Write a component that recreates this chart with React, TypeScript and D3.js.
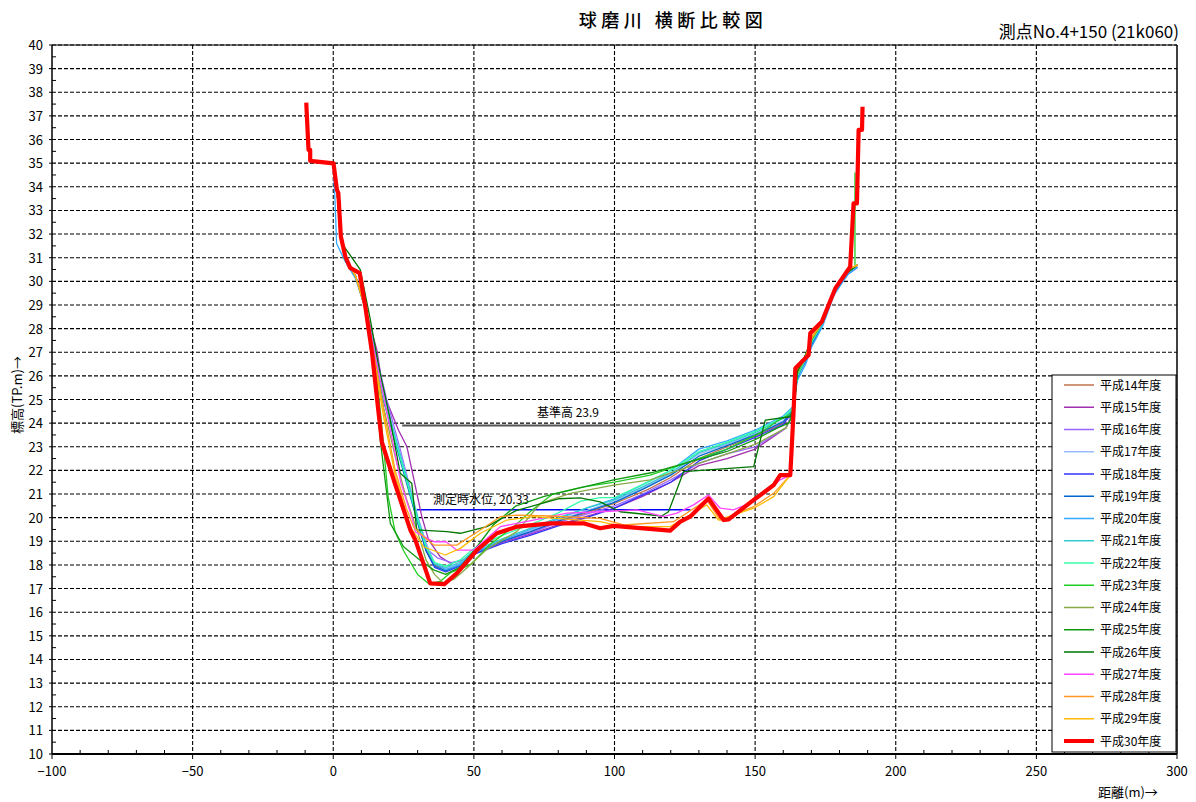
import React from "react";
import * as d3 from "d3";

type P = [number, number];

const seriesNames = [
  "平成14年度", "平成15年度", "平成16年度", "平成17年度", "平成18年度", "平成19年度",
  "平成20年度", "平成21年度", "平成22年度", "平成23年度", "平成24年度", "平成25年度",
  "平成26年度", "平成27年度", "平成28年度", "平成29年度", "平成30年度",
];
const seriesColors = [
  "#c0704a", "#a030b0", "#9966ff", "#99bbff", "#3333ff", "#0066cc",
  "#33aaff", "#33cccc", "#33ffaa", "#22cc22", "#88aa44", "#119911",
  "#007700", "#ff44ff", "#ff9922", "#ffbb00", "#ff0000",
];

const h14: P[] = [[0,34.9],[1.5,33.6],[2.5,31.9],[4.5,31.0],[8,30.2],[12,28.6],[15,26.8],[18,25.0],[22,23.3],[26,21.6],[30,19.9],[33,18.7],[36,18.0],[40,17.8],[45,18.0],[50,18.5],[60,19.0],[70,19.4],[80,19.85],[90,20.2],[100,20.6],[112,21.2],[120,21.7],[130,22.5],[140,23.0],[150,23.45],[160,24.0],[163.5,24.6],[165,26.1],[168,26.8],[170,27.5],[174,28.3],[178,29.6],[183,30.4],[186.5,30.7]];
const h15: P[] = [[0,34.9],[1.5,33.6],[2.5,31.9],[4.5,31.0],[8,30.2],[12,28.6],[15.5,27.1],[17.9,25.26],[23.2,23.7],[26.2,23.0],[31.5,20.04],[33.9,19.06],[38,18.35],[41.6,18.07],[46,18.2],[50,18.5],[60,18.95],[70,19.3],[80,19.7],[90,20.05],[100,20.4],[110,20.9],[120,21.5],[130,22.2],[140,22.5],[150,22.9],[161,23.8],[163.5,24.5],[165,26.0],[168,26.8],[170,27.4],[174,28.2],[178,29.6],[183,30.4],[186.5,30.7]];
const h16: P[] = [[0,34.9],[1.5,33.6],[2.5,31.9],[4.5,31.0],[8,30.2],[12,28.6],[15,27.0],[19,25.0],[24,22.8],[30,20.0],[34,18.6],[37,18.3],[42,18.1],[46,18.2],[50,18.5],[60,19.0],[70,19.35],[80,19.8],[90,20.15],[100,20.5],[110,21.0],[120,21.6],[130,22.3],[140,22.7],[150,23.0],[161,23.8],[163.5,24.5],[165,26.0],[168,26.8],[170,27.4],[174,28.3],[178,29.6],[183,30.4],[186.5,30.7]];
const h17: P[] = [[0,34.9],[1.5,33.6],[2.5,31.9],[4.5,31.0],[8,30.2],[12,28.6],[15,26.9],[18,25.2],[22,23.5],[26,21.8],[30,20.1],[33,18.9],[36,18.1],[40,17.85],[45,18.05],[50,18.55],[60,19.05],[70,19.45],[80,19.9],[90,20.3],[100,20.7],[110,21.25],[120,21.85],[130,22.7],[140,23.1],[150,23.55],[160,24.1],[163.5,24.6],[165,26.1],[168,26.8],[170,27.5],[174,28.3],[178,29.6],[183,30.4],[186.5,30.7]];
const h18: P[] = [[0,34.9],[1.5,33.6],[2.5,31.9],[4.5,31.0],[8,30.2],[12,28.6],[15,26.8],[18,25.0],[22,23.3],[26,21.6],[30,19.8],[33,18.6],[36,17.9],[40,17.7],[45,17.95],[50,18.45],[60,18.9],[70,19.25],[80,19.65],[90,20.0],[100,20.4],[109,20.9],[120,21.5],[130,22.4],[140,22.9],[150,23.4],[160,23.95],[163.5,24.5],[165,26.0],[168,26.6],[170,27.3],[174,28.2],[178,29.5],[183,30.3],[186.5,30.6]];
const h19: P[] = [[0,34.9],[1.5,33.6],[2.5,31.9],[4.5,31.0],[8,30.2],[12,28.6],[15,26.7],[18,24.9],[22,23.2],[26,21.5],[30,19.8],[33,18.6],[36,17.95],[40,17.75],[45,18.0],[50,18.5],[60,19.0],[70,19.4],[80,19.85],[90,20.25],[100,20.65],[110,21.2],[120,21.8],[130,22.6],[140,23.05],[150,23.5],[160,24.05],[163.5,24.55],[165,25.9],[168,26.7],[170,27.3],[174,28.2],[178,29.5],[183,30.4],[186.5,30.7]];
const h20: P[] = [[0,34.9],[0.6,33.5],[1.2,31.6],[4,30.9],[8,30.1],[12,28.6],[15,26.9],[18,25.1],[22,23.4],[26,21.7],[30,20.0],[33,18.8],[36,18.05],[40,17.8],[45,18.0],[50,18.5],[60,19.05],[70,19.5],[80,19.95],[90,20.4],[100,20.8],[110,21.4],[120,22.0],[130,22.9],[140,23.25],[150,23.7],[160,24.3],[163.5,24.7],[165,25.8],[168,26.5],[170,27.2],[174,28.1],[178,29.4],[183,30.3],[186.5,30.6]];
const h21: P[] = [[0,34.9],[1.5,33.6],[2.5,31.9],[4.5,31.0],[8,30.2],[12,28.6],[15,26.8],[18,25.1],[22,23.4],[26,21.7],[30,20.0],[33,18.8],[36,18.05],[40,17.9],[45,18.1],[50,18.6],[60,19.1],[70,19.55],[80,20.0],[90,20.4],[100,20.75],[110,21.3],[120,21.9],[130,22.75],[140,23.15],[150,23.6],[160,24.2],[163.5,24.6],[165,26.0],[168,26.7],[170,27.4],[174,28.2],[178,29.6],[183,30.4],[186.5,30.7]];
const h22: P[] = [[0,34.9],[1.5,33.6],[2.5,31.9],[4.5,31.0],[8,30.2],[12,28.6],[15,26.7],[18,25.0],[22,23.3],[26,21.6],[30,19.9],[33,18.75],[36,18.1],[40,17.95],[45,18.2],[50,18.7],[60,19.25],[70,19.7],[80,20.2],[88,20.7],[95,20.85],[100,20.85],[110,21.4],[120,22.0],[130,22.8],[140,23.2],[150,23.65],[160,24.25],[163.5,24.65],[165,26.0],[168,26.7],[170,27.4],[174,28.3],[178,29.6],[183,30.4],[186.5,30.7]];
const h23: P[] = [[0,34.9],[1.5,33.6],[2.5,31.9],[4.5,31.0],[8,30.2],[12,28.6],[15,26.5],[17,24.2],[19.5,20.9],[22,19.4],[25,18.6],[30,17.6],[34,17.2],[38,17.3],[42,17.7],[48.7,18.0],[56,18.9],[64,19.6],[70,20.25],[78,21.0],[89,21.3],[100,21.5],[112.7,21.8],[125,22.3],[140,22.9],[152,23.6],[158,24.1],[163,24.4],[165,26.1],[168,26.8],[170,27.5],[174,28.3],[178,29.6],[183,30.4],[185.5,30.6],[185.5,34.6]];
const h24: P[] = [[0,34.9],[1.5,33.6],[2.5,31.9],[4.5,31.0],[8,30.2],[12,28.6],[15,26.6],[18,24.6],[22,22.6],[26,20.8],[30,19.4],[33,18.2],[36,17.6],[39.1,17.24],[43,17.4],[47.5,17.87],[55,18.7],[65.3,19.41],[73.6,20.6],[84.3,21.03],[99.7,21.38],[112.7,21.6],[130,22.3],[150,23.1],[161,23.8],[163.5,24.4],[165,26.1],[168,26.8],[170,27.5],[174,28.3],[178,29.6],[183,30.4],[186.5,30.7]];
const h25: P[] = [[0,34.9],[1.5,33.6],[2.5,31.9],[4.5,31.0],[8,30.2],[12,28.6],[14.5,26.8],[16.7,23.3],[20.3,19.76],[25,18.77],[30.9,18.2],[35.7,17.79],[40,17.6],[45,17.9],[50,18.6],[57,19.7],[65,20.5],[75,20.9],[84.3,21.17],[99.7,21.6],[113,21.9],[125,22.3],[140,22.8],[150,23.3],[158,23.8],[162,24.0],[163.5,24.4],[165,26.2],[168,26.9],[170,27.6],[174,28.3],[178,29.6],[183,30.4],[186.5,30.7]];
const h26: P[] = [[0,34.9],[1.5,33.6],[3.1,31.6],[9.6,30.5],[13,28.5],[16,26.5],[20,24.3],[23.8,21.88],[27.9,21.46],[29.7,19.48],[40.4,19.41],[45.2,19.34],[54.6,19.62],[65,20.3],[80,20.8],[87.8,20.84],[94.9,20.67],[102,20.25],[116.8,20.07],[119.2,20.25],[124.6,21.95],[149.5,22.16],[153.6,24.13],[162.5,24.27],[164,24.7],[165,26.2],[168,26.9],[170,27.6],[174,28.3],[178,29.6],[183,30.4],[186.5,30.7]];
const h27: P[] = [[0,34.9],[1.5,33.6],[2.5,31.9],[4.5,31.0],[8,30.2],[12,28.6],[15,26.8],[19,24.5],[24,21.5],[28,20.0],[29.2,19.4],[35.7,18.98],[40.1,18.98],[43.9,18.63],[49.9,18.63],[59.4,19.62],[71.2,19.9],[83.1,20.19],[94.9,20.25],[108,20.33],[117.4,20.04],[122.2,20.19],[128.1,20.54],[133.4,20.96],[137.6,20.4],[142.3,20.33],[149.5,20.68],[158.9,21.6],[162.5,21.8],[163.6,24.5],[164.3,26.2],[168,26.8],[170,27.6],[174,28.3],[178,29.6],[183,30.5],[186.5,30.7]];
const h28: P[] = [[0,34.9],[1.5,33.6],[2.5,31.9],[4.5,31.0],[8,30.2],[12,28.6],[15,26.5],[18,24.5],[22,22.0],[26,20.4],[28.5,19.62],[32.1,19.2],[35.7,18.84],[43.9,18.84],[52.3,19.48],[59.4,20.04],[65.3,20.11],[77.2,20.07],[94.9,19.97],[103.2,19.69],[121,19.83],[132.8,20.75],[137.6,19.9],[149.5,20.47],[156.6,21.03],[162.5,21.8],[163.6,24.5],[164.3,26.2],[168,26.8],[170,27.6],[174,28.3],[178,29.6],[183,30.5],[186.5,30.7]];
const h29: P[] = [[0,34.9],[1.5,33.6],[2.5,31.9],[4.5,31.0],[8,30.2],[12,28.6],[15,26.3],[18,24.2],[22,21.8],[27.4,19.62],[32.1,18.77],[39.8,18.42],[45.2,18.7],[52.3,19.34],[61.7,19.9],[71.2,20.04],[94.9,19.83],[103.2,19.62],[119.8,19.62],[132.8,20.54],[137,19.9],[149.5,20.4],[156.6,20.89],[162.5,21.8],[163.6,24.5],[164.3,26.2],[168,26.8],[170,27.6],[174,28.3],[178,29.6],[183,30.5],[186.5,30.7]];
const h30: P[] = [[-9.6,37.56],[-8.8,35.56],[-8.2,35.56],[-8.2,35.1],[0.1,34.99],[1.3,33.87],[1.8,33.74],[2.7,31.9],[4.3,31.05],[6.0,30.57],[9.4,30.35],[11.4,28.93],[13.8,26.97],[16.0,24.56],[17.3,23.2],[21.5,21.6],[27.4,19.48],[29.2,19.05],[34.5,17.22],[39.5,17.19],[44,17.65],[51.1,18.63],[58.2,19.34],[65.3,19.62],[77.2,19.76],[89,19.76],[94.9,19.55],[99.7,19.65],[119.8,19.45],[123.4,19.83],[126.9,20.04],[133.4,20.81],[138.8,19.9],[140.6,19.93],[149.5,20.75],[156.6,21.38],[158.9,21.8],[162.5,21.8],[163.7,24.56],[164.3,26.32],[169.0,26.88],[169.6,27.8],[173.7,28.29],[178.5,29.7],[183.8,30.62],[185.0,33.3],[186.2,33.3],[186.8,36.41],[188.0,36.41],[188.2,37.39]];

const seriesData: P[][] = [h14, h15, h16, h17, h18, h19, h20, h21, h22, h23, h24, h25, h26, h27, h28, h29, h30];

const xTicks = [-100, -50, 0, 50, 100, 150, 200, 250, 300];
const yTicks = [10, 11, 12, 13, 14, 15, 16, 17, 18, 19, 20, 21, 22, 23, 24, 25, 26, 27, 28, 29, 30, 31, 32, 33, 34, 35, 36, 37, 38, 39, 40];

const refLevel = { label: "基準高 23.9", y: 23.9, x0: 24.5, x1: 144.7 };
const waterLevel = { label: "測定時水位, 20.33", y: 20.33, x0: 29.7, x1: 127 };

const FONT = "'Noto Sans CJK JP', 'Noto Sans', sans-serif";

export default function App() {
  const left = 52, right = 1177, top = 45, bottom = 754;
  const x = d3.scaleLinear().domain([-100, 300]).range([left, right]);
  const y = d3.scaleLinear().domain([10, 40]).range([bottom, top]);
  const line = d3.line<P>().x((d) => x(d[0])).y((d) => y(d[1]));

  const xMinor = d3.range(-100, 301, 10).filter((v) => v % 50 !== 0);
  const yMinor = d3.range(10.5, 40, 1);

  const legX = 1052, legY = 375, legW = 124, legH = 377;
  const rowH = 22.25;

  return (
    <svg width={1196} height={802} style={{ position: "absolute", left: 0, top: 0, background: "#fff" }} fontFamily={FONT}>
      <rect x={0} y={0} width={1196} height={802} fill="#fff" />
      <text x={673} y={27} textAnchor="middle" fontSize={18} fontWeight={500} letterSpacing={4.5} fill="#000">球磨川 横断比較図</text>
      <text x={1179} y={38} textAnchor="end" fontSize={17} fill="#000">測点No.4+150 (21k060)</text>

      {/* grid */}
      {yTicks.filter((t) => t !== 10 && t !== 40).map((t) => (
        <line key={"gy" + t} x1={left} x2={right} y1={y(t)} y2={y(t)} stroke="#000" strokeWidth={1.1} strokeDasharray="4,2" />
      ))}
      {xTicks.filter((t) => t !== -100 && t !== 300).map((t) => (
        <line key={"gx" + t} x1={x(t)} x2={x(t)} y1={top} y2={bottom} stroke="#000" strokeWidth={1.1} strokeDasharray="4,2" />
      ))}
      <line x1={left} x2={right} y1={y(40)} y2={y(40)} stroke="#000" strokeWidth={1.1} strokeDasharray="4,2" />

      {/* reference lines */}
      <line x1={x(refLevel.x0)} x2={x(refLevel.x1)} y1={y(refLevel.y)} y2={y(refLevel.y)} stroke="#555" strokeWidth={2} />
      <text x={537} y={y(refLevel.y) - 8} fontSize={12} fill="#000">{refLevel.label}</text>
      <line x1={x(waterLevel.x0)} x2={x(waterLevel.x1)} y1={y(waterLevel.y)} y2={y(waterLevel.y)} stroke="#0000ff" strokeWidth={1.5} />
      <text x={433} y={y(waterLevel.y) - 6} fontSize={12} fill="#000">{waterLevel.label}</text>

      {/* series */}
      {seriesData.map((d, i) => (
        <path key={"s" + i} d={line(d) || ""} fill="none" stroke={seriesColors[i]}
          strokeWidth={i === 16 ? 4.2 : 1.3} strokeLinejoin="round" />
      ))}

      {/* frame */}
      <line x1={left} x2={left} y1={top} y2={bottom} stroke="#000" strokeWidth={1.5} />
      <line x1={right} x2={right} y1={top} y2={bottom} stroke="#000" strokeWidth={1.5} />
      <line x1={left} x2={right} y1={bottom} y2={bottom} stroke="#000" strokeWidth={2} />
      <line x1={left} x2={right} y1={top} y2={top} stroke="#000" strokeWidth={1} />

      {/* y ticks */}
      {yTicks.map((t) => (
        <g key={"yt" + t}>
          <line x1={left - 3} x2={left} y1={y(t)} y2={y(t)} stroke="#000" />
          <text x={43} y={y(t) + 5} textAnchor="end" fontSize={13} fill="#000">{t}</text>
        </g>
      ))}
      {yMinor.map((t) => (
        <line key={"ym" + t} x1={left} x2={left + 4} y1={y(t)} y2={y(t)} stroke="#000" />
      ))}
      {/* x ticks */}
      {xTicks.map((t) => (
        <g key={"xt" + t}>
          <line x1={x(t)} x2={x(t)} y1={bottom} y2={bottom + 5} stroke="#000" />
          <text x={x(t)} y={776} textAnchor="middle" fontSize={13} fill="#000">{t < 0 ? "−" + Math.abs(t) : t}</text>
        </g>
      ))}
      {xMinor.map((t) => (
        <line key={"xm" + t} x1={x(t)} x2={x(t)} y1={bottom - 4} y2={bottom} stroke="#000" />
      ))}

      <text transform={`translate(22,395) rotate(-90)`} textAnchor="middle" fontSize={13} fill="#000">標高(TP.m)→</text>
      <text x={1098} y={797} fontSize={13} fill="#000">距離(m)→</text>

      {/* legend */}
      <rect x={legX} y={legY} width={legW} height={legH} fill="#fff" stroke="#000" strokeWidth={1} />
      {seriesNames.map((n, i) => {
        const cy = legY + 10 + i * rowH;
        return (
          <g key={"lg" + i}>
            <line x1={1064} x2={1094} y1={cy} y2={cy} stroke={seriesColors[i]} strokeWidth={i === 16 ? 4 : 1.5} />
            <text x={1100} y={cy + 4.5} fontSize={12} fill="#000">{n}</text>
          </g>
        );
      })}
    </svg>
  );
}
